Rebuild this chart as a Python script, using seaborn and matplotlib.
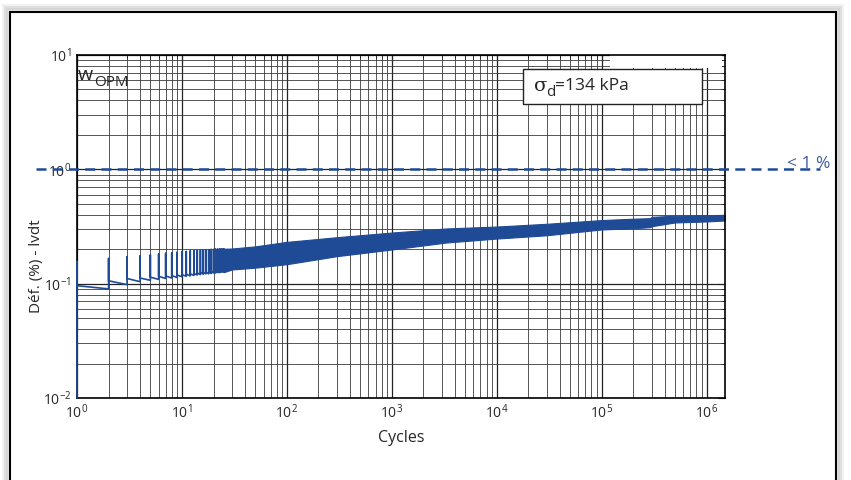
import numpy as np
import pandas as pd
import matplotlib.pyplot as plt
import seaborn as sns
from matplotlib.patches import Rectangle

# cycle-by-cycle readings for the first cycles (sawtooth part)
cycles = list(range(1, 26))
peak = [0.156, 0.166, 0.172, 0.175, 0.178, 0.181, 0.184, 0.186, 0.188, 0.190,
        0.191, 0.193, 0.194, 0.195, 0.196, 0.197, 0.197, 0.198, 0.199, 0.199,
        0.200, 0.200, 0.201, 0.201, 0.202]
after = [0.096, 0.106, 0.111, 0.112, 0.114, 0.116, 0.117, 0.118, 0.119, 0.120,
         0.121, 0.122, 0.123, 0.124, 0.125, 0.125, 0.126, 0.127, 0.127, 0.128,
         0.128, 0.129, 0.129, 0.130, 0.130]
before = [0.010, 0.090, 0.098, 0.104, 0.107, 0.109, 0.111, 0.112, 0.113, 0.115,
          0.116, 0.117, 0.118, 0.119, 0.120, 0.121, 0.122, 0.122, 0.123, 0.124,
          0.124, 0.125, 0.125, 0.126, 0.126]

# envelope of the dense part (too many cycles to show one by one)
band_cycles = [25, 30, 50, 100, 300, 1000, 3300, 1e4, 3e4, 1e5, 2e5, 2.9e5, 3.0e5, 5e5, 1e6, 1.5e6]
band_top = [0.202, 0.203, 0.212, 0.232, 0.255, 0.280, 0.304, 0.316, 0.334, 0.360, 0.370, 0.374, 0.384, 0.393, 0.397, 0.400]
band_bottom = [0.126, 0.133, 0.138, 0.148, 0.174, 0.199, 0.229, 0.248, 0.265, 0.298, 0.305, 0.312, 0.318, 0.343, 0.350, 0.357]

limit_value = 1.0
blue = '#1f4a96'

sns.set_style('white')
plt.rcParams['font.family'] = ['Open Sans', 'DejaVu Sans']
plt.rcParams['mathtext.fontset'] = 'custom'
plt.rcParams['mathtext.rm'] = 'Open Sans'
plt.rcParams['mathtext.it'] = 'Open Sans:italic'
plt.rcParams['mathtext.sf'] = 'Open Sans'

# build the sawtooth path
xs, ys = [], []
for c, b, p, a in zip(cycles, before, peak, after):
    xs += [c, c, c]
    ys += [b, p, a]
saw = pd.DataFrame({'cycle': xs, 'def': ys})

fig = plt.figure(figsize=(8.51, 4.80), dpi=100)
ax = fig.add_axes([77 / 851, 1 - 398 / 480, 648 / 851, 343 / 480])

ax.set_xscale('log')
ax.set_yscale('log')
ax.set_xlim(1, 1.5e6)
ax.set_ylim(0.01, 10)
ax.set_axisbelow(True)

sns.lineplot(data=saw, x='cycle', y='def', sort=False, estimator=None,
             color=blue, lw=1.2, ax=ax, zorder=3, clip_on=False)
ax.fill_between(band_cycles, band_bottom, band_top, color=blue, lw=0.8, edgecolor=blue)

ax.grid(which='major', color='#222222', lw=0.9)
ax.grid(which='minor', color='#3a3a3a', lw=0.6)
ax.tick_params(which='both', direction='in', top=True, right=True, labelsize=10, pad=4)
ax.tick_params(which='major', length=5)
ax.tick_params(which='minor', length=3)
for s in ax.spines.values():
    s.set_color('black')
    s.set_linewidth(1.2)

ax.set_xlabel('Cycles', fontsize=11.5, labelpad=6)
ax.set_ylabel('Déf. (%) - lvdt', fontsize=11)
ax.yaxis.set_label_coords(-0.051, 0.385)

# white patch at top right (as in the original)
ax.add_patch(Rectangle((0.823, 0.962), 0.172, 0.038, transform=ax.transAxes,
                       facecolor='white', edgecolor='none', zorder=1))

# limit line
ax.plot([-0.063, 1.147], [limit_value, limit_value], transform=ax.get_yaxis_transform(),
        color=blue, lw=1.8, ls=(0, (4, 2.5)), clip_on=False, zorder=3)
fig.text(787 / 851, 1 - 164 / 480, '< 1 %', color='#3d5c9c', fontsize=12.5, va='center')

# material label
fig.text(78 / 851, 1 - 75 / 480, 'w', fontsize=14, va='center', ha='left')
fig.text(94 / 851, 1 - 83 / 480, 'OPM', fontsize=11, va='center', ha='left')

# annotation box
fig.add_artist(Rectangle((523 / 851, 1 - 104 / 480), 179 / 851, 35 / 480,
                         transform=fig.transFigure, facecolor='white',
                         edgecolor='#222222', lw=1.0))
fig.text(534 / 851, 1 - 86 / 480, 'σ', fontsize=14, va='center',
         family=['DejaVu Serif'])
fig.text(546 / 851, 1 - 92 / 480, 'd', fontsize=11, va='center')
fig.text(555 / 851, 1 - 86 / 480, '=134 kPa', fontsize=12.5, va='center')

# page frame with soft shadow
for i, alpha in enumerate([0.05, 0.07, 0.09]):
    off = (3 - i) * 2
    fig.add_artist(Rectangle(((10 - off) / 851, -0.1), (826 + 2 * off) / 851,
                             (1.1 - (12 - off) / 480), transform=fig.transFigure,
                             facecolor='none', edgecolor='black', lw=3, alpha=alpha, zorder=-1))
fig.add_artist(Rectangle((10 / 851, -0.1), 826 / 851, 1.1 - 12 / 480,
                         transform=fig.transFigure, facecolor='none',
                         edgecolor='black', lw=1.5))

fig.savefig('out.png', dpi=100)
